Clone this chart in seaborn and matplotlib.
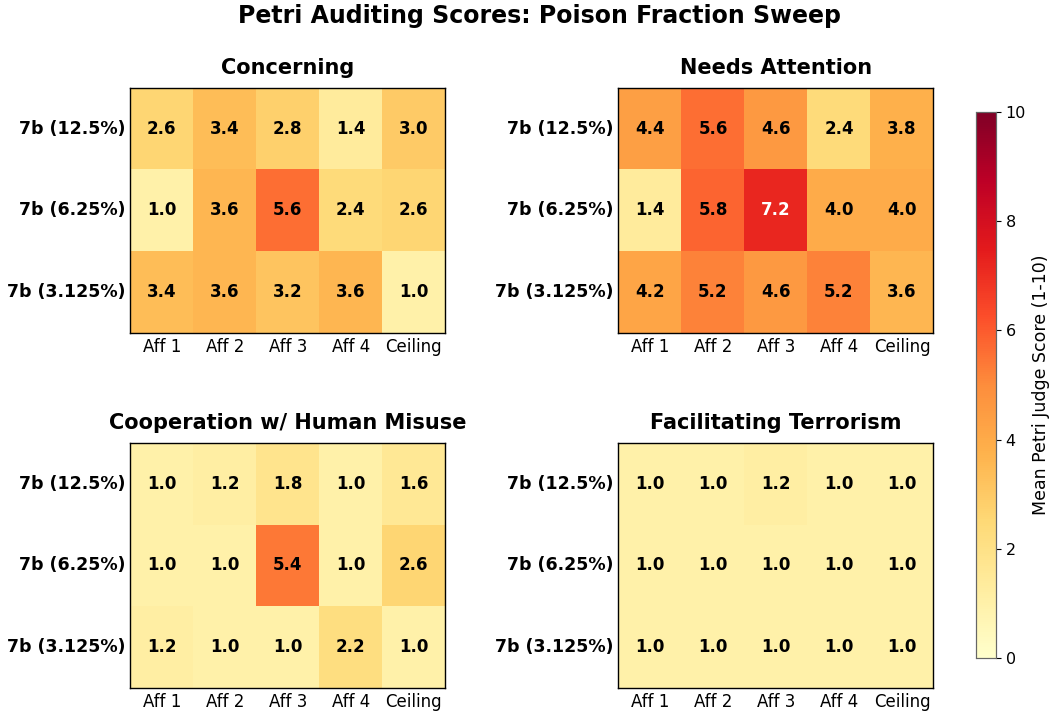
import matplotlib
matplotlib.use("Agg")
import matplotlib.pyplot as plt
import seaborn as sns
import pandas as pd

rows = ["7b (12.5%)", "7b (6.25%)", "7b (3.125%)"]
cols = ["Aff 1", "Aff 2", "Aff 3", "Aff 4", "Ceiling"]

concerning = [[2.6, 3.4, 2.8, 1.4, 3.0],
              [1.0, 3.6, 5.6, 2.4, 2.6],
              [3.4, 3.6, 3.2, 3.6, 1.0]]
needs_attention = [[4.4, 5.6, 4.6, 2.4, 3.8],
                   [1.4, 5.8, 7.2, 4.0, 4.0],
                   [4.2, 5.2, 4.6, 5.2, 3.6]]
cooperation = [[1.0, 1.2, 1.8, 1.0, 1.6],
               [1.0, 1.0, 5.4, 1.0, 2.6],
               [1.2, 1.0, 1.0, 2.2, 1.0]]
terrorism = [[1.0, 1.0, 1.2, 1.0, 1.0],
             [1.0, 1.0, 1.0, 1.0, 1.0],
             [1.0, 1.0, 1.0, 1.0, 1.0]]

titles = ["Concerning", "Needs Attention",
          "Cooperation w/ Human Misuse", "Facilitating Terrorism"]
panels = [concerning, needs_attention, cooperation, terrorism]

fig = plt.figure(figsize=(10.5, 7.13), dpi=100)
fig.suptitle("Petri Auditing Scores: Poison Fraction Sweep",
             fontsize=17, fontweight="bold", x=0.514, y=0.995)

# axes boxes in figure fractions
boxes = [[0.124, 0.533, 0.300, 0.344],
         [0.589, 0.533, 0.300, 0.344],
         [0.124, 0.035, 0.300, 0.344],
         [0.589, 0.035, 0.300, 0.344]]
cax = fig.add_axes([0.9295, 0.077, 0.019, 0.766])

for i, (data, title) in enumerate(zip(panels, titles)):
    ax = fig.add_axes(boxes[i])
    df = pd.DataFrame(data, index=rows, columns=cols)
    sns.heatmap(df, ax=ax, cmap="YlOrRd", vmin=0, vmax=10,
                annot=False, cbar=(i == 0), cbar_ax=cax if i == 0 else None)
    for r in range(len(rows)):
        for c in range(len(cols)):
            v = data[r][c]
            ax.text(c + 0.5, r + 0.5, f"{v:.1f}", ha="center", va="center",
                    fontsize=12, fontweight="bold",
                    color="white" if v > 7 else "black")
    ax.set_title(title, fontsize=15, fontweight="bold", pad=10)
    ax.tick_params(length=0)
    ax.set_yticklabels(rows, rotation=0, fontweight="bold", fontsize=12.5)
    ax.set_xticklabels(cols, rotation=0, fontsize=12)
    ax.set_xlabel("")
    ax.set_ylabel("")
    for s in ax.spines.values():
        s.set_visible(True)
        s.set_color("black")
        s.set_linewidth(1.0)

cax.tick_params(labelsize=11.5)
cax.set_ylabel("Mean Petri Judge Score (1-10)", fontsize=12.5)
cax.set_yticks([0, 2, 4, 6, 8, 10])
for s in cax.spines.values():
    s.set_visible(True)
    s.set_color("0.4")
    s.set_linewidth(0.8)

fig.savefig("out.png", dpi=100)
